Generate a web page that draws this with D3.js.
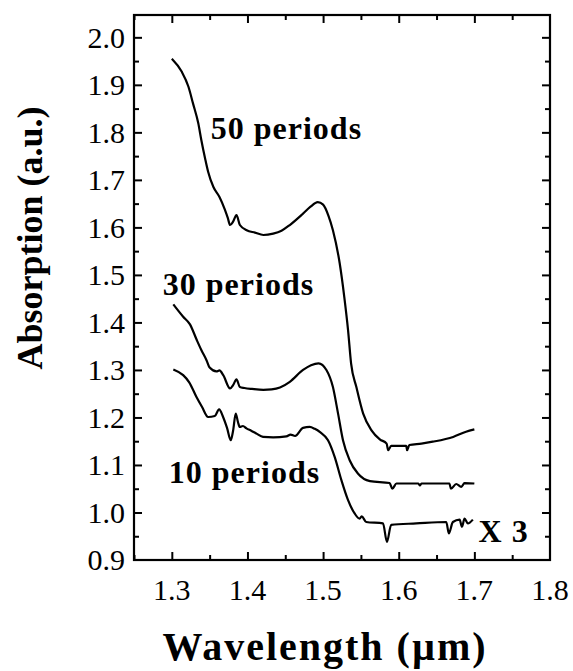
<!DOCTYPE html>
<html>
<head>
<meta charset="utf-8">
<script src="https://cdn.jsdelivr.net/npm/d3@7"></script>
<style>
  html, body { margin: 0; padding: 0; background: #fff; }
  svg { display: block; }
  text { font-family: "Liberation Serif", "Times New Roman", serif; fill: #000; }
</style>
</head>
<body>
<svg id="chart" width="573" height="671"></svg>
<script>
// ---- Data ----
const wl50  = [1.300,1.313,1.322,1.328,1.335,1.339,1.344,1.348,1.355,1.363,1.370,1.374,1.377,1.381,1.3855,1.390,1.399,1.410,1.421,1.434,1.445,1.456,1.4735,1.483,1.493,1.500,1.507,1.513,1.522,1.528,1.533,1.537,1.544,1.553,1.564,1.575,1.584,1.586,1.590,1.610,1.611,1.614,1.630,1.645,1.672,1.689,1.700];
const abs50 = [1.955,1.928,1.896,1.861,1.819,1.784,1.745,1.717,1.685,1.664,1.638,1.620,1.605,1.612,1.626,1.605,1.594,1.589,1.584,1.587,1.593,1.605,1.629,1.643,1.653,1.648,1.625,1.594,1.524,1.454,1.384,1.314,1.264,1.208,1.173,1.154,1.145,1.131,1.140,1.140,1.131,1.142,1.145,1.149,1.159,1.170,1.175];

const wl30  = [1.302,1.315,1.324,1.333,1.339,1.346,1.350,1.359,1.363,1.368,1.377,1.381,1.3855,1.390,1.396,1.406,1.421,1.432,1.443,1.456,1.4735,1.484,1.494,1.5044,1.513,1.5198,1.5263,1.5351,1.546,1.562,1.588,1.5915,1.597,1.626,1.628,1.630,1.667,1.669,1.676,1.6827,1.687,1.700];
const abs30 = [1.438,1.412,1.396,1.363,1.342,1.320,1.305,1.297,1.299,1.289,1.261,1.268,1.280,1.264,1.262,1.260,1.258,1.259,1.263,1.275,1.300,1.310,1.314,1.300,1.264,1.208,1.152,1.110,1.082,1.066,1.062,1.050,1.061,1.061,1.057,1.061,1.061,1.050,1.060,1.054,1.062,1.061];

const wl10  = [1.302,1.315,1.323,1.3326,1.340,1.348,1.3568,1.3625,1.3678,1.373,1.378,1.381,1.3845,1.3875,1.3898,1.394,1.3987,1.405,1.412,1.4206,1.434,1.4515,1.457,1.463,1.4735,1.4823,1.489,1.496,1.5065,1.5153,1.5242,1.533,1.5417,1.5483,1.551,1.557,1.5792,1.5844,1.590,1.6232,1.6629,1.6662,1.6716,1.6805,1.6836,1.687,1.6914,1.698];
const abs10 = [1.301,1.289,1.274,1.243,1.222,1.201,1.203,1.217,1.201,1.178,1.152,1.172,1.208,1.190,1.180,1.182,1.177,1.172,1.166,1.159,1.158,1.160,1.164,1.161,1.178,1.180,1.176,1.169,1.152,1.117,1.068,1.026,0.998,0.987,0.992,0.980,0.977,0.938,0.974,0.977,0.980,0.956,0.980,0.985,0.970,0.987,0.977,0.985];

const xTickLabels = ["1.3","1.4","1.5","1.6","1.7","1.8"];
const yTickLabels = ["0.9","1.0","1.1","1.2","1.3","1.4","1.5","1.6","1.7","1.8","1.9","2.0"];

const annotTexts = ["50 periods","30 periods","10 periods","X 3"];
const annotX     = [1.3515, 1.2881, 1.296, 1.7056];
const annotY     = [1.786, 1.4575, 1.0617, 0.9377];

const xTitle = "Wavelength (\u00b5m)";
const yTitle = "Absorption (a.u.)";

// ---- Layout ----
const svg = d3.select("#chart");
const mLeft = 134, mRight = 550, mTop = 15, mBottom = 560;
const xDomain = [1.25, 1.80];
const yDomain = [0.9, 2.047];
const x = d3.scaleLinear().domain(xDomain).range([mLeft, mRight]);
const y = d3.scaleLinear().domain(yDomain).range([mBottom, mTop]);

// tick values (major = labelled, minor = halfway)
const xMajor = xTickLabels.map(Number);
const xMinor = d3.range(1.25, 1.80, 0.1).map(v => +v.toFixed(2));
const yMajor = yTickLabels.map(Number);
const yMinor = d3.range(0.95, 2.0, 0.1).map(v => +v.toFixed(2));

const tickStroke = 2;
const majorLen = 8, minorLen = 5;

// Frame
svg.append("rect")
  .attr("x", mLeft).attr("y", mTop)
  .attr("width", mRight - mLeft).attr("height", mBottom - mTop)
  .attr("fill", "none").attr("stroke", "#000").attr("stroke-width", 2.2);

function addAxis(axisGen, transform) {
  const g = svg.append("g").attr("transform", transform).call(axisGen);
  g.select(".domain").remove();
  g.selectAll(".tick line").attr("stroke", "#000").attr("stroke-width", tickStroke);
  return g;
}
// bottom
addAxis(d3.axisBottom(x).tickValues(xMajor.filter(v => v < 1.79)).tickSize(-majorLen).tickFormat(""), `translate(0,${mBottom})`);
addAxis(d3.axisBottom(x).tickValues(xMinor).tickSize(-minorLen).tickFormat(""), `translate(0,${mBottom})`);
// top
addAxis(d3.axisTop(x).tickValues(xMajor.filter(v => v < 1.79)).tickSize(-majorLen).tickFormat(""), `translate(0,${mTop})`);
addAxis(d3.axisTop(x).tickValues(xMinor).tickSize(-minorLen).tickFormat(""), `translate(0,${mTop})`);
// left
addAxis(d3.axisLeft(y).tickValues(yMajor.filter(v => v > 0.91)).tickSize(-majorLen).tickFormat(""), `translate(${mLeft},0)`);
addAxis(d3.axisLeft(y).tickValues(yMinor).tickSize(-minorLen).tickFormat(""), `translate(${mLeft},0)`);
// right
addAxis(d3.axisRight(y).tickValues(yMajor.filter(v => v > 0.91)).tickSize(-majorLen).tickFormat(""), `translate(${mRight},0)`);
addAxis(d3.axisRight(y).tickValues(yMinor).tickSize(-minorLen).tickFormat(""), `translate(${mRight},0)`);

// Tick labels
svg.append("g").selectAll("text").data(xTickLabels).join("text")
  .attr("x", d => x(+d)).attr("y", 600)
  .attr("text-anchor", "middle")
  .attr("font-size", 30)
  .text(d => d);

svg.append("g").selectAll("text").data(yTickLabels).join("text")
  .attr("x", mLeft - 9).attr("y", d => y(+d))
  .attr("dy", "0.34em")
  .attr("text-anchor", "end")
  .attr("font-size", 30)
  .text(d => d);

// Axis titles
svg.append("text")
  .attr("x", 325).attr("y", 660)
  .attr("text-anchor", "middle")
  .attr("font-size", 40).attr("font-weight", "bold")
  .attr("letter-spacing", 2)
  .text(xTitle);

svg.append("text")
  .attr("transform", `translate(42,238) rotate(-90)`)
  .attr("text-anchor", "middle")
  .attr("font-size", 36).attr("font-weight", "bold")
  .text(yTitle);

// Curves
const line = d3.line()
  .x(d => x(d[0])).y(d => y(d[1]))
  .curve(d3.curveMonotoneX);
const series = [
  d3.zip(wl50, abs50),
  d3.zip(wl30, abs30),
  d3.zip(wl10, abs10)
];
svg.append("g").selectAll("path").data(series).join("path")
  .attr("d", line)
  .attr("fill", "none")
  .attr("stroke", "#000")
  .attr("stroke-width", 2.2)
  .attr("stroke-linejoin", "round");

// Annotations
svg.append("g").selectAll("text").data(annotTexts).join("text")
  .attr("x", (d, i) => x(annotX[i]))
  .attr("y", (d, i) => y(annotY[i]))
  .attr("font-size", 32).attr("font-weight", "bold")
  .attr("letter-spacing", 1)
  .text(d => d);
</script>
</body>
</html>
